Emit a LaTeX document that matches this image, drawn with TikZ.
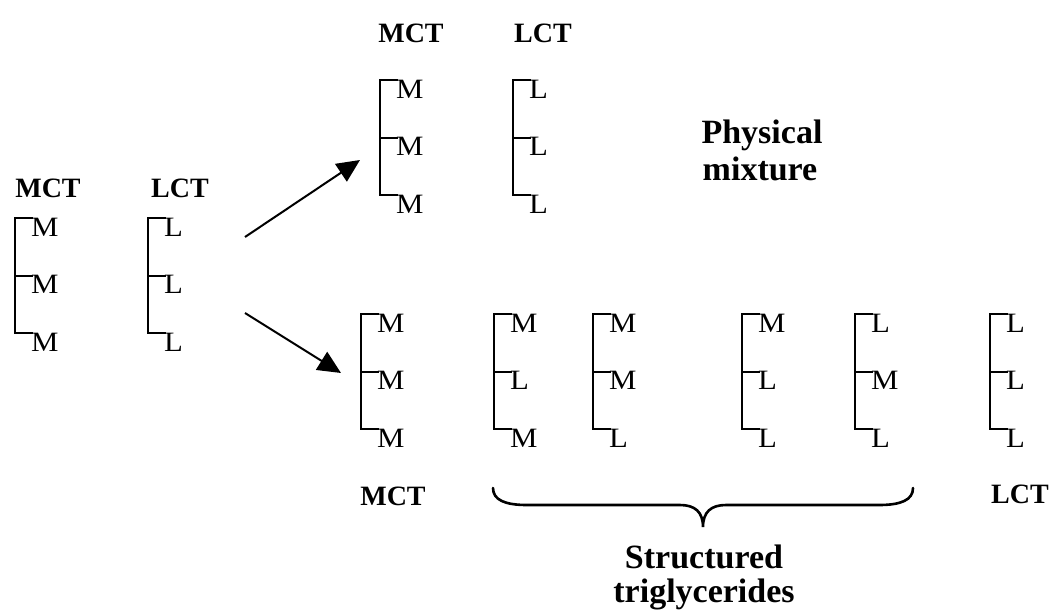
\documentclass[tikz,border=0pt]{standalone}
\usepackage{fontspec}
\setmainfont{Liberation Serif}
\newfontfamily\lettfont[FakeStretch=1.1]{Liberation Serif}
\usetikzlibrary{arrows.meta}
\newcommand\trig[6]{%
  \node[letter] (#1a) at (#2+16,#3+18) {#4};
  \node[letter] (#1b) at (#2+16,#3+75.5) {#5};
  \node[letter] (#1c) at (#2+16,#3+133) {#6};
  \draw[bracket] (#2+18,#3) -- (#2,#3) -- (#2,#3+115) -- (#2+18,#3+115);
  \draw[bracket] (#2,#3+57.5) -- (#2+18,#3+57.5);
}
\begin{document}
\begin{tikzpicture}[x=1pt,y=-1pt,
  letter/.style={anchor=base west,inner sep=0pt,font=\lettfont\fontsize{28}{30}\selectfont},
  lab/.style={anchor=base,inner sep=0pt,font=\bfseries\fontsize{28}{32}\selectfont},
  big/.style={anchor=base,inner sep=0pt,font=\bfseries\fontsize{34}{38}\selectfont},
  bracket/.style={line width=2pt},
  arr/.style={line width=2pt,-{Triangle[length=23pt,width=21pt]}},
  bracelike/.style={line width=2.6pt,line cap=round}]
\useasboundingbox (0,0) rectangle (1051,610);
% left group
\node[lab] (lm) at (48,197) {MCT};
\node[lab] (ll) at (180,197) {LCT};
\trig{l1}{15}{218}{M}{M}{M}
\trig{l2}{148}{218}{L}{L}{L}
% top group
\node[lab] (tm) at (411,42) {MCT};
\node[lab] (tl) at (543,42) {LCT};
\trig{t1}{380}{80}{M}{M}{M}
\trig{t2}{513}{80}{L}{L}{L}
\node[big] (ph) at (762,143) {Physical};
\node[big] (mx) at (760,180) {mixture};
% bottom row
\trig{b1}{361}{314}{M}{M}{M}
\trig{b2}{494}{314}{M}{L}{M}
\trig{b3}{593}{314}{M}{M}{L}
\trig{b4}{742}{314}{M}{L}{L}
\trig{b5}{855}{314}{L}{M}{L}
\trig{b6}{990}{314}{L}{L}{L}
\node[lab] (bm) at (393,505) {MCT};
\node[lab] (bl) at (1020,503) {LCT};
% arrows
\coordinate (s1) at (245,237);
\coordinate (e1) at (360,160);
\coordinate (s2) at (245,313);
\coordinate (e2) at (341,373);
\draw[arr] (s1) -- (e1);
\draw[arr] (s2) -- (e2);
% brace
\coordinate (bl0) at (493,488);
\coordinate (bt) at (703,527);
\coordinate (br0) at (913,488);
\draw[bracelike] (bl0) .. controls (493,500) and (505,505) .. (527,505) -- (680,505)
  .. controls (695,505) and (703,512) .. (bt)
  .. controls (703,512) and (711,505) .. (726,505) -- (879,505)
  .. controls (901,505) and (913,500) .. (br0);
\node[big] (st) at (704,568) {Structured};
\node[big] (tg) at (704,602) {triglycerides};
\end{tikzpicture}
\end{document}
